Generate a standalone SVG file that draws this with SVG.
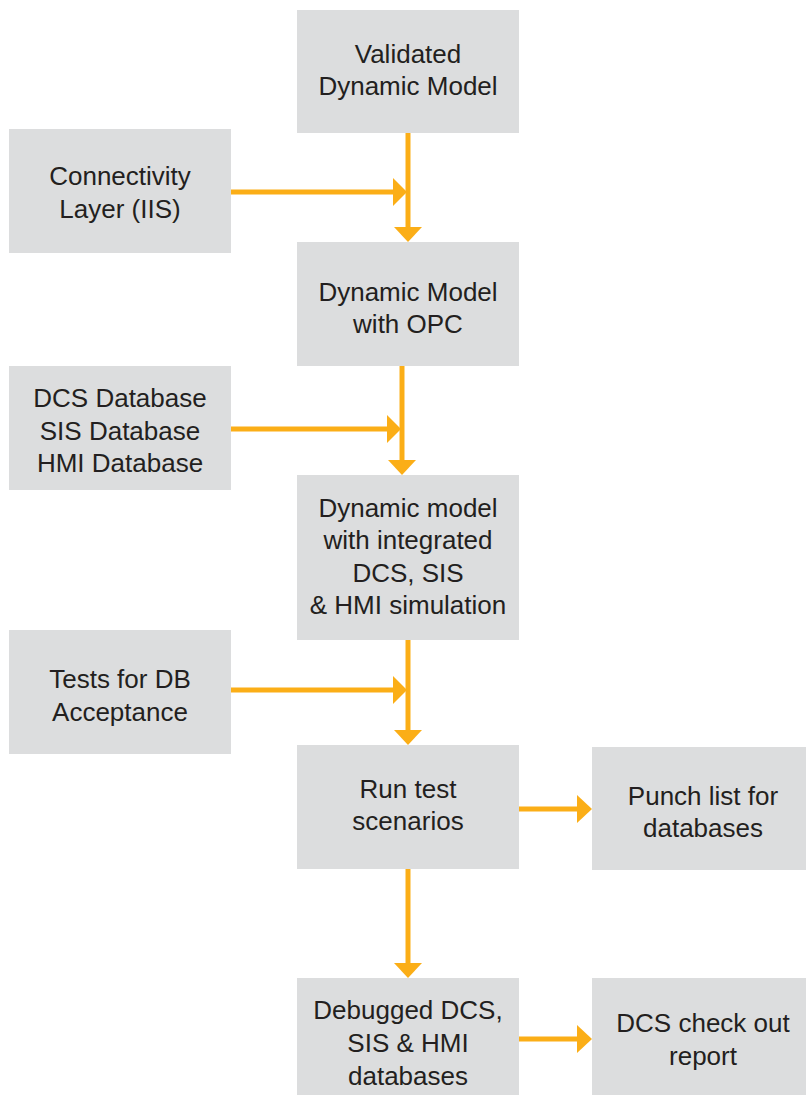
<svg xmlns="http://www.w3.org/2000/svg" width="806" height="1095" viewBox="0 0 806 1095">
<defs>
<style>
.box{fill:#dcddde}
.t{font-family:"Liberation Sans",Arial,sans-serif;font-size:26px;fill:#231f20;text-anchor:middle}
.ln{stroke:#fbae17;stroke-width:5;fill:none}
.ah{fill:#fbae17}
</style>
</defs>
<g id="connectors">
<line class="ln" x1="408" y1="133" x2="408" y2="228"/>
<polygon class="ah" points="394,227 422,227 408,242"/>
<line class="ln" x1="231" y1="192" x2="394" y2="192"/>
<polygon class="ah" points="393,178 393,206 407,192"/>
<line class="ln" x1="402" y1="366" x2="402" y2="461"/>
<polygon class="ah" points="388,460 416,460 402,475"/>
<line class="ln" x1="231" y1="429" x2="388" y2="429"/>
<polygon class="ah" points="387,415 387,443 401,429"/>
<line class="ln" x1="408" y1="640" x2="408" y2="731"/>
<polygon class="ah" points="394,730 422,730 408,745"/>
<line class="ln" x1="231" y1="690" x2="394" y2="690"/>
<polygon class="ah" points="393,676 393,704 407,690"/>
<line class="ln" x1="408" y1="869" x2="408" y2="964"/>
<polygon class="ah" points="394,963 422,963 408,978"/>
<line class="ln" x1="519" y1="809" x2="578" y2="809"/>
<polygon class="ah" points="577,795 577,823 592,809"/>
<line class="ln" x1="519" y1="1039" x2="578" y2="1039"/>
<polygon class="ah" points="577,1025 577,1053 592,1039"/>
</g>
<g id="n1"><rect class="box" x="297" y="10" width="222" height="123"/><text class="t"><tspan x="408" y="63">Validated</tspan><tspan x="408" y="95">Dynamic Model</tspan></text></g>
<g id="n2"><rect class="box" x="9" y="129" width="222" height="124"/><text class="t"><tspan x="120" y="185">Connectivity</tspan><tspan x="120" y="218">Layer (IIS)</tspan></text></g>
<g id="n3"><rect class="box" x="297" y="242" width="222" height="124"/><text class="t"><tspan x="408" y="301">Dynamic Model</tspan><tspan x="408" y="333">with OPC</tspan></text></g>
<g id="n4"><rect class="box" x="9" y="366" width="222" height="124"/><text class="t"><tspan x="120" y="407">DCS Database</tspan><tspan x="120" y="440">SIS Database</tspan><tspan x="120" y="472">HMI Database</tspan></text></g>
<g id="n5"><rect class="box" x="297" y="475" width="222" height="165"/><text class="t"><tspan x="408" y="517">Dynamic model</tspan><tspan x="408" y="549">with integrated</tspan><tspan x="408" y="582">DCS, SIS</tspan><tspan x="408" y="614">&amp; HMI simulation</tspan></text></g>
<g id="n6"><rect class="box" x="9" y="630" width="222" height="124"/><text class="t"><tspan x="120" y="688">Tests for DB</tspan><tspan x="120" y="721">Acceptance</tspan></text></g>
<g id="n7"><rect class="box" x="297" y="745" width="222" height="124"/><text class="t"><tspan x="408" y="798">Run test</tspan><tspan x="408" y="830">scenarios</tspan></text></g>
<g id="n8"><rect class="box" x="592" y="747" width="214" height="123"/><text class="t"><tspan x="703" y="805">Punch list for</tspan><tspan x="703" y="837">databases</tspan></text></g>
<g id="n9"><rect class="box" x="297" y="978" width="222" height="117"/><text class="t"><tspan x="408" y="1019">Debugged DCS,</tspan><tspan x="408" y="1052">SIS &amp; HMI</tspan><tspan x="408" y="1085">databases</tspan></text></g>
<g id="n10"><rect class="box" x="592" y="978" width="214" height="117"/><text class="t"><tspan x="703" y="1032">DCS check out</tspan><tspan x="703" y="1065">report</tspan></text></g>
</svg>
